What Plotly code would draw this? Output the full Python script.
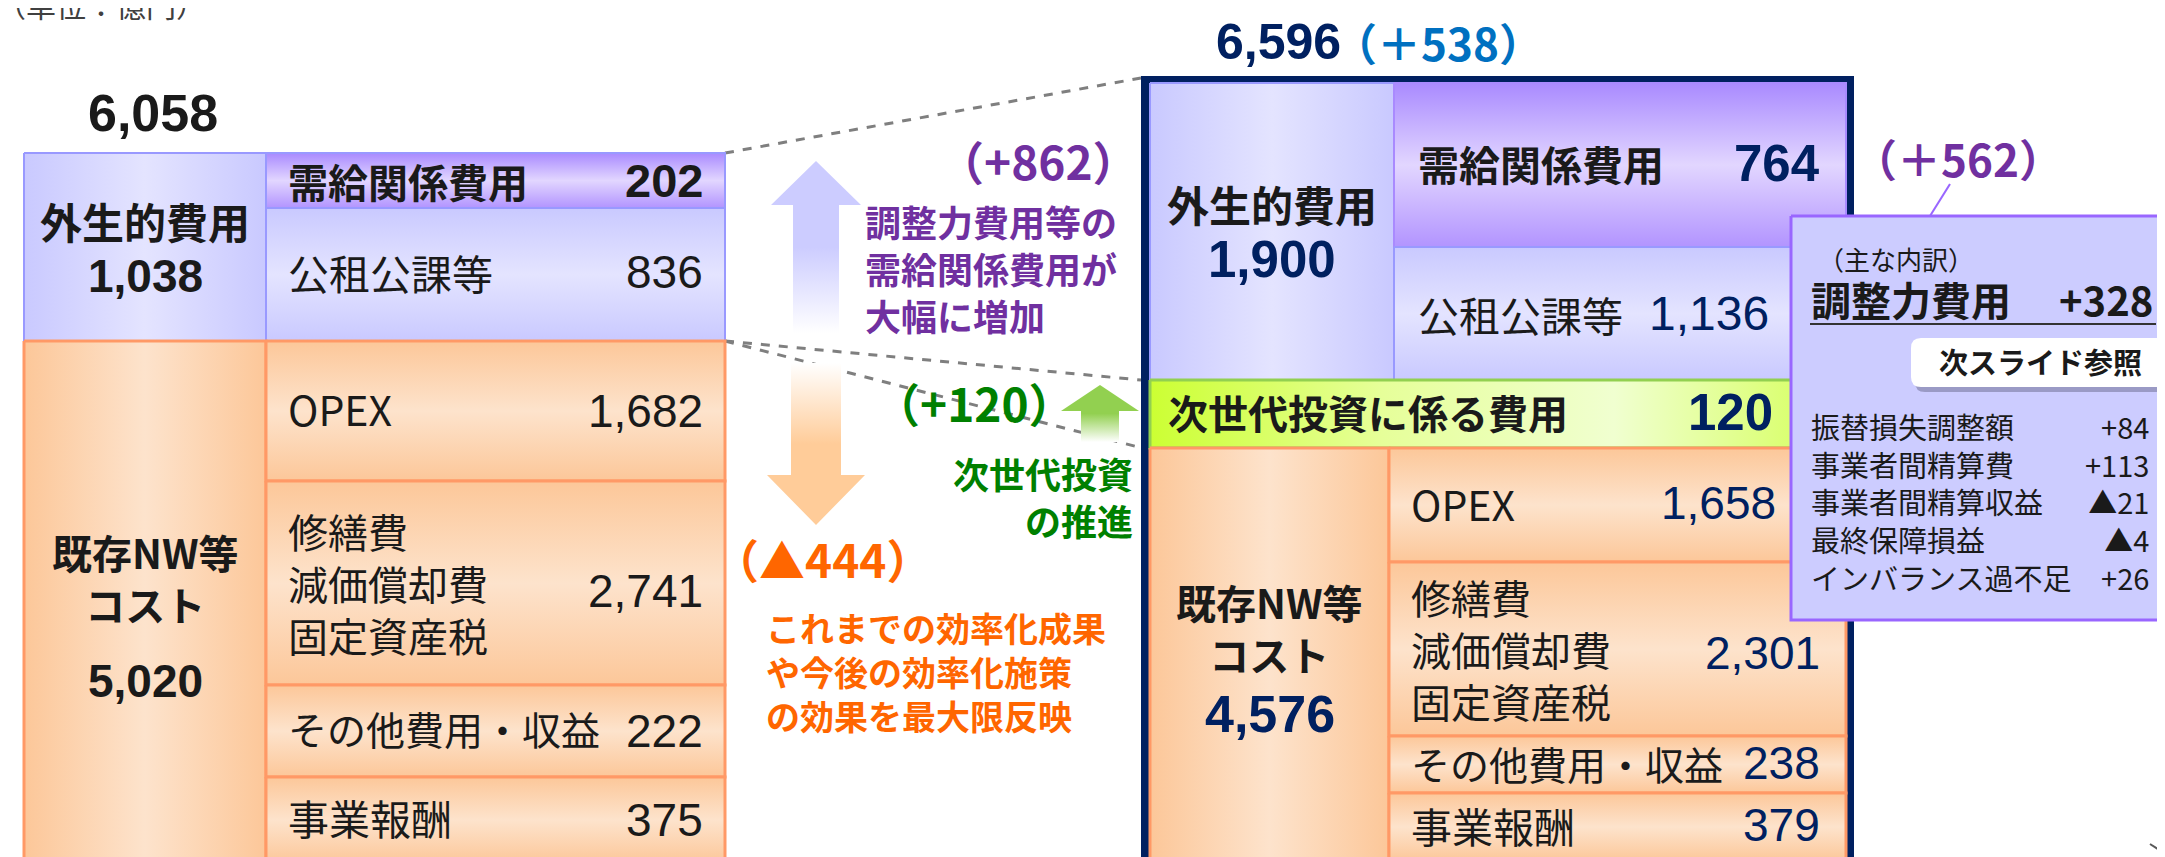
import plotly.graph_objects as go

W, H = 2165, 857
JP = "Noto Sans CJK JP"
NUM = "Liberation Sans, Arial"

# ---- 値（億円） ----
cur_total = 6058
cur_exo_total = 1038
exo_labels = ["需給関係費用", "公租公課等"]
cur_exo_values = [202, 836]
cur_nw_total = 5020
nw_labels = ["OPEX", ["修繕費", "減価償却費", "固定資産税"], "その他費用・収益", "事業報酬"]
cur_nw_values = [1682, 2741, 222, 375]

new_total = 6596
new_total_diff = 538
new_exo_total = 1900
new_exo_values = [764, 1136]
nextgen_label = "次世代投資に係る費用"
nextgen_value = 120
new_nw_total = 4576
new_nw_values = [1658, 2301, 238, 379]

diff_exo = 862
diff_nextgen = 120
diff_nw = -444
diff_supply = 562

adj_label, adj_value = "調整力費用", 328
breakdown_labels = ["振替損失調整額", "事業者間精算費", "事業者間精算収益", "最終保障損益", "インバランス過不足"]
breakdown_values = [84, 113, -21, -4, 26]

# ---- レイアウト（ピクセル座標） ----
L_X = [16, 258, 717]
L_EXO_Y = [145, 200, 333]
L_NW_Y = [333, 473, 677, 769, 855]
R_X = [1142, 1386, 1838]
R_NW_XM = 1381
R_EXO_Y = [75, 239, 372]
R_NG_Y = [372, 440]
R_NW_Y = [440, 554, 728, 785, 853]

LAV = ["#C9C9FF", "#E4E4FF", "#C9C9FF"]
PUR = ["#B294FF", "#E2D6FF", "#A98AFF"]
PEACH = ["#FCC799", "#FDE3CC", "#FCC799"]
LIME = ["#CCFF33", "#E6FF99", "#F0FFD0", "#D4FF55"]
BLACK = "#1A1A1A"
NAVY = "#002060"


def fmt(v):
    return f"{v:,}"


def signed(v, wide=False):
    if v < 0:
        return "▲" + fmt(-v)
    return ("＋" if wide else "+") + fmt(v)


fig = go.Figure()


def poly(xs, ys, colors=None, direction="vertical", line_color="rgba(0,0,0,0)",
         line_width=0, fill=None, start=None, stop=None):
    kw = {}
    if colors:
        n = len(colors)
        g = dict(type=direction, colorscale=[[i / (n - 1), c] for i, c in enumerate(colors)])
        if start is not None:
            g["start"] = start
            g["stop"] = stop
        kw["fillgradient"] = g
    else:
        kw["fillcolor"] = fill
    fig.add_trace(go.Scatter(
        x=xs, y=ys, mode="lines", fill="toself",
        line=dict(color=line_color, width=line_width),
        hoverinfo="skip", showlegend=False, **kw))


def box(x0, x1, y0, y1, colors, direction, line_color, line_width=2):
    poly([x0, x1, x1, x0, x0], [y0, y0, y1, y1, y0], colors, direction,
         line_color, line_width)


def line(xs, ys, color, width=2, dash=None):
    fig.add_trace(go.Scatter(
        x=xs, y=ys, mode="lines", line=dict(color=color, width=width, dash=dash),
        hoverinfo="skip", showlegend=False))


def text(x, y, s, size, color=BLACK, bold=False, anchor="left", family=JP):
    fig.add_annotation(
        x=x, y=y, text=s, showarrow=False, xanchor=anchor, yanchor="middle",
        align=anchor if anchor != "center" else "center",
        font=dict(family=family, size=size, color=color,
                  weight="bold" if bold else "normal"))


def mid(a, b):
    return (a + b) / 2


# 破線（拡大の補助線）
line([L_X[2], 1133], [L_EXO_Y[0], 70], "#7F7F7F", 3, "dash")
line([L_X[2], 1133], [L_EXO_Y[2], R_EXO_Y[2]], "#7F7F7F", 3, "dash")
line([L_X[2], 1142], [L_EXO_Y[2], R_NG_Y[1] + 2], "#7F7F7F", 3, "dash")

# ---- 左：現行 ----
box(L_X[0], L_X[1], L_EXO_Y[0], L_EXO_Y[2], LAV, "horizontal", "#9999FF")
box(L_X[1], L_X[2], L_EXO_Y[0], L_EXO_Y[1], PUR, "vertical", "#9999FF")
box(L_X[1], L_X[2], L_EXO_Y[1], L_EXO_Y[2], LAV, "vertical", "#9999FF")
box(L_X[0], L_X[1], L_NW_Y[0], L_NW_Y[-1], PEACH, "horizontal", "#FF9966", 3)
for i in range(4):
    box(L_X[1], L_X[2], L_NW_Y[i], L_NW_Y[i + 1], PEACH, "vertical", "#FF9966", 3)

text(145, 105, fmt(cur_total), 52, bold=True, anchor="center", family=NUM)
cx = mid(L_X[0], L_X[1])
text(cx, 212, "外生的費用", 42, bold=True, anchor="center")
text(cx, 268, fmt(cur_exo_total), 46, bold=True, anchor="center", family=NUM)
text(L_X[1] + 20, mid(*L_EXO_Y[:2]), exo_labels[0], 40, bold=True)
text(697, mid(*L_EXO_Y[:2]), fmt(cur_exo_values[0]), 47, bold=True, anchor="right", family=NUM)
text(L_X[1] + 20, mid(*L_EXO_Y[1:]) - 3, exo_labels[1], 41)
text(697, mid(*L_EXO_Y[1:]) - 3, fmt(cur_exo_values[1]), 46, anchor="right", family=NUM)

text(cx, 570, "既存NW等<br>コスト", 40, bold=True, anchor="center")
text(cx, 673, fmt(cur_nw_total), 46, bold=True, anchor="center", family=NUM)
for i, lab in enumerate(nw_labels):
    yc = mid(L_NW_Y[i], L_NW_Y[i + 1])
    if isinstance(lab, list):
        text(L_X[1] + 20, yc, "<br>".join(lab), 40)
        yv = yc + 8
    else:
        text(L_X[1] + 20, yc - 3, lab, 39 if len(lab) > 6 else 41)
        yv = yc
    text(697, yv, fmt(cur_nw_values[i]), 46, anchor="right", family=NUM)

# ---- 中央：増減の矢印 ----
poly([808, 853, 831, 831, 785, 785, 763, 808], [153, 197, 197, 325, 325, 197, 197, 153],
     ["#CCCCFF", "#CCCCFF", "#FFFFFF"], "vertical", start=153, stop=325)
poly([783, 833, 833, 857, 808, 759, 783, 783], [355, 355, 467, 467, 517, 467, 467, 355],
     ["#FFFFFF", "#FFCC99", "#FFCC99"], "vertical", start=355, stop=517)
poly([1092, 1131, 1111, 1111, 1073, 1073, 1053, 1092], [377, 403, 403, 434, 434, 403, 403, 377],
     ["#92D050", "#92D050", "#FFFFFF"], "vertical", start=377, stop=434)

text(1030, 152, "（" + signed(diff_exo) + "）", 46, "#7030A0", True, "center")
text(855, 260, "調整力費用等の<br>需給関係費用が<br>大幅に増加", 36, "#7030A0", True)
text(966, 394, "（" + signed(diff_nextgen) + "）", 46, "#008000", True, "center")
text(1127, 488, "次世代投資<br>の推進", 36, "#008000", True, "right")
text(814, 550, "（" + signed(diff_nw) + "）", 46, "#FF6600", True, "center")
text(756, 663, "これまでの効率化成果<br>や今後の効率化施策<br>の効果を最大限反映", 34, "#FF6600", True)

# ---- 右：新 ----
poly([1133, 1846, 1846, 1133, 1133], [68, 68, 862, 862, 68], fill=NAVY)
box(R_X[0], R_X[1], R_EXO_Y[0], R_EXO_Y[2], LAV, "horizontal", "#9999FF")
box(R_X[1], R_X[2], R_EXO_Y[0], R_EXO_Y[1], PUR, "vertical", "#A98AFF")
box(R_X[1], R_X[2], R_EXO_Y[1], R_EXO_Y[2], LAV, "vertical", "#9999FF")
box(R_X[0], R_X[2], R_NG_Y[0], R_NG_Y[1], LIME, "horizontal", "#92D050", 3)
box(R_X[0], R_NW_XM, R_NW_Y[0], R_NW_Y[-1], PEACH, "horizontal", "#FF9966", 3)
for i in range(4):
    box(R_NW_XM, R_X[2], R_NW_Y[i], R_NW_Y[i + 1], PEACH, "vertical", "#FF9966", 3)

text(1270, 34, fmt(new_total), 50, NAVY, True, "center", NUM)
text(1430, 34, "（" + signed(new_total_diff, True) + "）", 44, "#0070C0", True, "center")
rx = mid(R_X[0], R_X[1])
text(rx, 195, "外生的費用", 42, bold=True, anchor="center")
text(rx, 251, fmt(new_exo_total), 51, NAVY, True, "center", NUM)
text(R_X[1] + 22, mid(*R_EXO_Y[:2]) - 2, exo_labels[0], 41, bold=True)
text(1814, mid(*R_EXO_Y[:2]) - 2, fmt(new_exo_values[0]), 51, NAVY, True, "right", NUM)
text(R_X[1] + 22, mid(*R_EXO_Y[1:]), exo_labels[1], 41)
text(1763, mid(*R_EXO_Y[1:]), fmt(new_exo_values[1]), 48, NAVY, False, "right", NUM)
text(R_X[0] + 16, mid(*R_NG_Y) - 2, nextgen_label, 40, bold=True)
text(1767, mid(*R_NG_Y) - 2, fmt(nextgen_value), 51, NAVY, True, "right", NUM)

rnx = mid(R_X[0], R_NW_XM)
text(rnx, 620, "既存NW等<br>コスト", 40, bold=True, anchor="center")
text(rnx, 706, fmt(new_nw_total), 52, NAVY, True, "center", NUM)
val_x = [1770, 1814, 1814, 1814]
for i, lab in enumerate(nw_labels):
    yc = mid(R_NW_Y[i], R_NW_Y[i + 1])
    if isinstance(lab, list):
        text(R_NW_XM + 20, yc, "<br>".join(lab), 40)
        yv = yc + 4
    else:
        text(R_NW_XM + 20, yc - 2, lab, 39 if len(lab) > 6 else 41)
        yv = yc - 2
    text(val_x[i], yv, fmt(new_nw_values[i]), 46, NAVY, False, "right", NUM)

# ---- 右端：需給関係費用の内訳 ----
text(1950, 150, "（" + signed(diff_supply, True) + "）", 44, "#7030A0", True, "center")
line([1942, 1922], [176, 208], "#9966FF", 2)
poly([1783, 2175, 2175, 1783, 1783], [208, 208, 612, 612, 208], fill="#CCCCFF",
     line_color="#9966FF", line_width=3)
text(1808, 250, "（主な内訳）", 26)
text(1801, 291, adj_label, 40, bold=True)
text(2147, 291, signed(adj_value), 40, bold=True, anchor="right")
fig.add_shape(type="line", x0=1802, x1=2148, y0=316, y1=316,
              line=dict(color="#333333", width=2), layer="above")


def rounded(x0, y0, x1, y1, r):
    return (f"M {x0 + r},{y0} L {x1 - r},{y0} Q {x1},{y0} {x1},{y0 + r} "
            f"L {x1},{y1 - r} Q {x1},{y1} {x1 - r},{y1} L {x0 + r},{y1} "
            f"Q {x0},{y1} {x0},{y1 - r} L {x0},{y0 + r} Q {x0},{y0} {x0 + r},{y0} Z")


fig.add_shape(type="path", path=rounded(1907, 335, 2166, 384, 10),
              fillcolor="rgba(60,60,90,0.35)", line=dict(width=0), layer="above")
fig.add_shape(type="path", path=rounded(1903, 330, 2162, 379, 10),
              fillcolor="white", line=dict(width=0), layer="above")
text(2032, 353, "次スライド参照", 29, bold=True, anchor="center")
text(1801, 493, "<br>".join(breakdown_labels), 29)
text(2143, 493, "<br>".join(signed(v) for v in breakdown_values), 29, anchor="right")

# 単位
fig.add_annotation(x=0, y=0, text="（単位：億円）", showarrow=False, xanchor="left",
                   yanchor="middle", xshift=-14, yshift=4,
                   font=dict(family=JP, size=30, color="#404040"))
line([2142, 2165], [836, 851], "#595959", 2)

fig.update_layout(
    width=W, height=H,
    margin=dict(l=0, r=0, t=0, b=0),
    paper_bgcolor="white", plot_bgcolor="white",
    showlegend=False,
    xaxis=dict(range=[0, W], visible=False, fixedrange=True),
    yaxis=dict(range=[H, 0], visible=False, fixedrange=True),
)

fig.write_html("out.html")
